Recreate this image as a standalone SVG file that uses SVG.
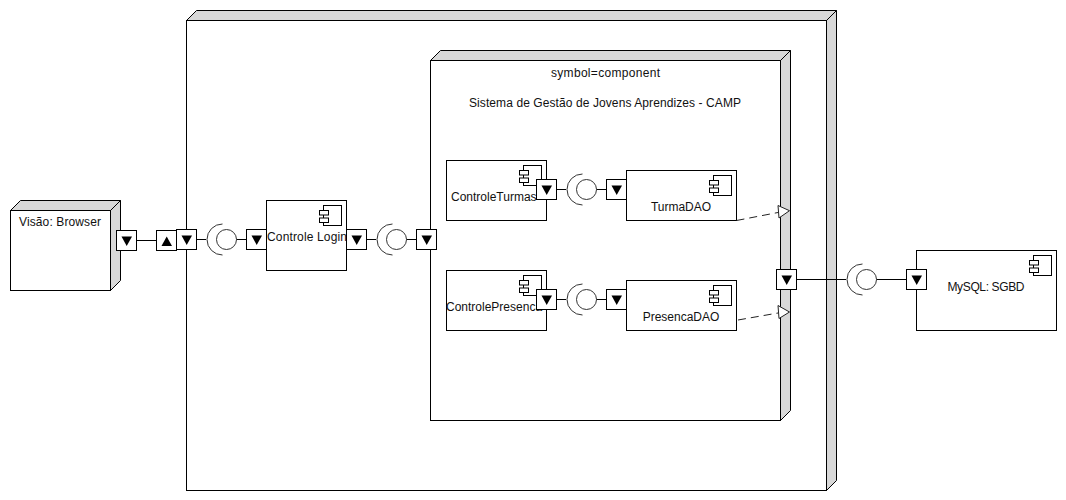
<svg xmlns="http://www.w3.org/2000/svg" xmlns:xlink="http://www.w3.org/1999/xlink" width="1066" height="500" viewBox="0 0 1066 500">
<style>
text{font-family:"Liberation Sans",Arial,sans-serif;font-size:12px;fill:#111}
.m{text-anchor:middle}
.f{fill:#fff;stroke:#000;stroke-width:1}
.s{fill:#d8d8d8;stroke:#000;stroke-width:1}
.c{fill:none;stroke:#000;stroke-width:1}
.a{fill:none;stroke:#333;stroke-width:1}
.d{fill:none;stroke:#222;stroke-width:1;stroke-dasharray:8 5}
.h{fill:#fff;stroke:#222;stroke-width:1}
</style>
<defs>
<g id="pd"><rect class="f" width="20" height="20"/><path d="M5 6H15.500L10.200 15.500Z" fill="#000"/></g>
<g id="pu"><rect class="f" width="20" height="20"/><path d="M5 15.500H15.500L10.200 6Z" fill="#000"/></g>
<g id="ic"><rect class="f" x="4" y="0" width="18" height="20"/><rect class="f" x="0" y="5" width="9" height="4.500"/><rect class="f" x="0" y="12.500" width="9" height="4.500"/></g>
<g id="lp"><circle class="a" cx="0" cy="0" r="10"/><path class="a" d="M-4 -15.500A15.500 15.500 0 0 0 -4 15.500"/></g>
</defs>
<g id="node-servidor">
<path class="s" d="M186.500 20.500L196.500 10.500H836.500L826.500 20.500Z"/>
<path class="s" d="M826.500 20.500L836.500 10.500V480.500L826.500 490.500Z"/>
<rect class="f" x="186.500" y="20.500" width="640" height="470"/>
</g>
<g id="node-sistema">
<path class="s" d="M430.500 60.500L440.500 50.500H790.500L780.500 60.500Z"/>
<path class="s" d="M780.500 60.500L790.500 50.500V410.500L780.500 420.500Z"/>
<rect class="f" x="430.500" y="60.500" width="350" height="360"/>
<text x="551" y="77" textLength="109">symbol=component</text>
<text x="469" y="107" textLength="272">Sistema de Gestão de Jovens Aprendizes - CAMP</text>
</g>
<g id="node-browser">
<path class="s" d="M10.500 210.500L20.500 200.500H120.500L110.500 210.500Z"/>
<path class="s" d="M110.500 210.500L120.500 200.500V280.500L110.500 290.500Z"/>
<rect class="f" x="10.500" y="210.500" width="100" height="80"/>
<text x="19" y="226" textLength="82">Visão: Browser</text>
</g>
<g id="node-login">
<rect class="f" x="266.500" y="200.500" width="80" height="70"/>
<use xlink:href="#ic" href="#ic" x="319.500" y="205.500"/>
<text x="267" y="241" textLength="80">Controle Login</text>
</g>
<g id="node-controle-turmas">
<rect class="f" x="446.500" y="160.500" width="100" height="60"/>
<use xlink:href="#ic" href="#ic" x="519.500" y="165.500"/>
<text x="451" y="201">ControleTurmas</text>
</g>
<g id="node-turma-dao">
<rect class="f" x="626.500" y="170.500" width="110" height="50"/>
<use xlink:href="#ic" href="#ic" x="709.500" y="175.500"/>
<text class="m" x="681" y="211">TurmaDAO</text>
</g>
<g id="node-controle-presenca">
<rect class="f" x="446.500" y="270.500" width="100" height="60"/>
<use xlink:href="#ic" href="#ic" x="519.500" y="275.500"/>
<text x="446" y="311">ControlePresenca</text>
</g>
<g id="node-presenca-dao">
<rect class="f" x="626.500" y="280.500" width="110" height="50"/>
<use xlink:href="#ic" href="#ic" x="709.500" y="285.500"/>
<text class="m" x="681" y="321">PresencaDAO</text>
</g>
<g id="node-mysql">
<rect class="f" x="916.500" y="250.500" width="140" height="80"/>
<use xlink:href="#ic" href="#ic" x="1029.500" y="255.500"/>
<text x="947.500" y="291" textLength="77">MySQL: SGBD</text>
</g>
<g id="connectors">
<path class="c" d="M136.500 240.500H156.500"/>
<path class="c" d="M196.500 239.500H206M236.500 239.500H246.500"/>
<path class="c" d="M366.500 239.500H376M406.500 239.500H416.500"/>
<path class="c" d="M556.500 189.500H566M596.500 189.500H606.500"/>
<path class="c" d="M556.500 299.500H566M596.500 299.500H606.500"/>
<path class="c" d="M796.500 279.500H846M876.500 279.500H906.500"/>
<use xlink:href="#lp" href="#lp" x="226.500" y="239.500"/>
<use xlink:href="#lp" href="#lp" x="396.500" y="239.500"/>
<use xlink:href="#lp" href="#lp" x="586.500" y="189.500"/>
<use xlink:href="#lp" href="#lp" x="586.500" y="299.500"/>
<use xlink:href="#lp" href="#lp" x="866.500" y="279.500"/>
<path class="d" d="M736.500 220.500L778 212.500"/>
<path class="h" d="M778 205.500L789.500 210.700L779 218Z"/>
<path class="d" d="M738 320L778 313"/>
<path class="h" d="M778 305.500L789.500 312L779 318.500Z"/>
</g>
<g id="ports">
<use xlink:href="#pd" href="#pd" x="116.500" y="230.500"/>
<use xlink:href="#pu" href="#pu" x="156.500" y="230.500"/>
<use xlink:href="#pd" href="#pd" x="176.500" y="229.500"/>
<use xlink:href="#pd" href="#pd" x="246.500" y="229.500"/>
<use xlink:href="#pd" href="#pd" x="346.500" y="229.500"/>
<use xlink:href="#pd" href="#pd" x="416.500" y="229.500"/>
<use xlink:href="#pd" href="#pd" x="536.500" y="179.500"/>
<use xlink:href="#pd" href="#pd" x="606.500" y="179.500"/>
<use xlink:href="#pd" href="#pd" x="536.500" y="289.500"/>
<use xlink:href="#pd" href="#pd" x="606.500" y="289.500"/>
<use xlink:href="#pd" href="#pd" x="776.500" y="269.500"/>
<use xlink:href="#pd" href="#pd" x="906.500" y="269.500"/>
</g>
</svg>
